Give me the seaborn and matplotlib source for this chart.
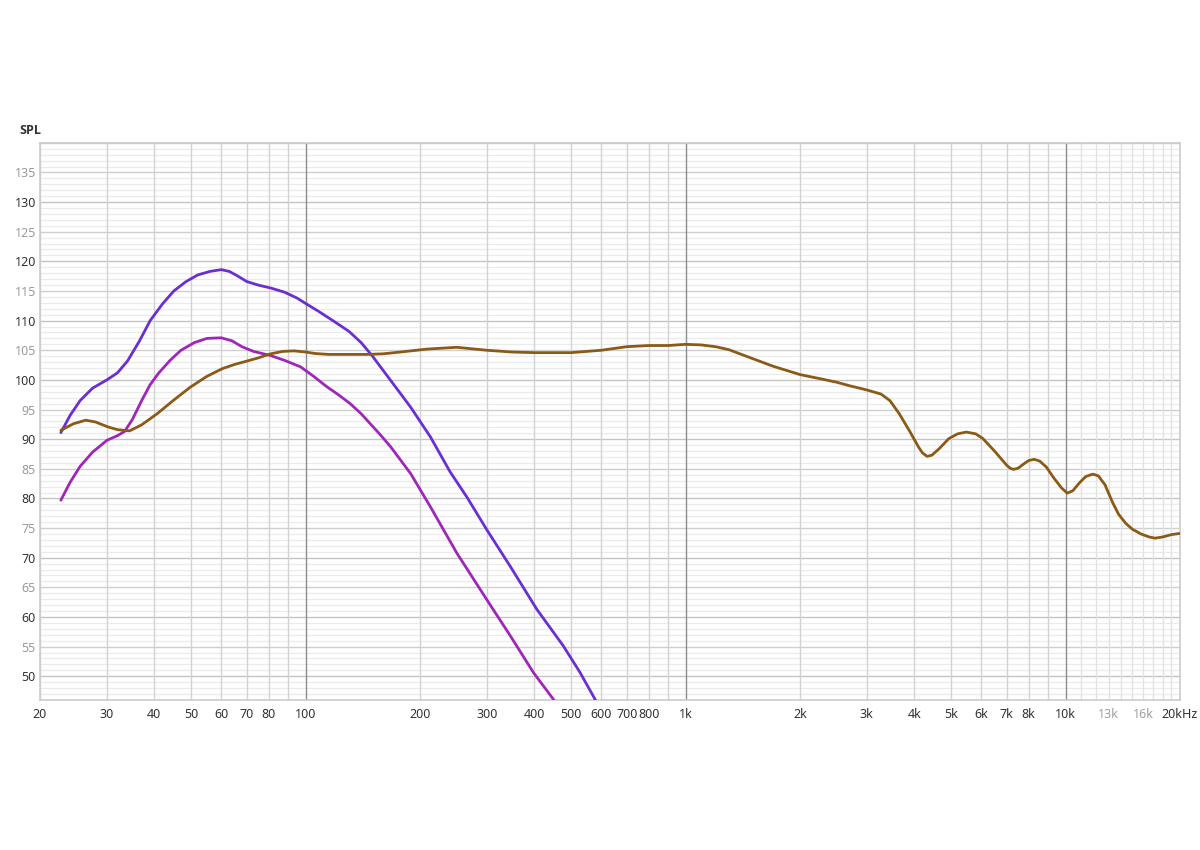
import matplotlib
matplotlib.use("Agg")
import matplotlib.pyplot as plt
import pandas as pd
import seaborn as sns

# frequency response readings (Hz, dB SPL)
blue_freq = [22.7, 24, 25.5, 27.5, 30, 32, 34, 36.5, 39, 42, 45, 48.5, 52, 56, 60, 63, 66,
             70, 75, 81, 88, 95, 100, 108, 118, 130, 140, 150, 167.5, 189, 213, 240, 266,
             300, 346, 406, 477, 528, 578, 600]
blue_spl = [91.1, 94.0, 96.5, 98.6, 100.0, 101.2, 103.2, 106.5, 110.0, 112.8, 115.0, 116.6,
            117.7, 118.3, 118.6, 118.3, 117.6, 116.6, 116.0, 115.5, 114.8, 113.8, 112.9, 111.6,
            110.0, 108.2, 106.3, 104.0, 99.9, 95.4, 90.4, 84.5, 80.2, 74.7, 68.5, 61.3, 55.1,
            50.6, 46.1, 43.5]

magenta_freq = [22.7, 24, 25.5, 27.5, 30, 32, 33.4, 35, 37.1, 39, 41, 44, 47, 51, 55, 60, 64,
                68, 73, 81, 88, 97, 105, 114, 122, 131, 140, 148, 157, 167.5, 189, 213, 250,
                300, 346, 398, 449, 470]
magenta_spl = [79.7, 82.7, 85.4, 87.8, 89.8, 90.6, 91.3, 93.3, 96.6, 99.2, 101.1, 103.3,
               105.0, 106.3, 107.0, 107.1, 106.6, 105.6, 104.8, 104.1, 103.3, 102.2, 100.6,
               98.8, 97.5, 96.0, 94.3, 92.6, 90.8, 88.7, 84.2, 78.6, 70.8, 62.9, 56.8, 50.6,
               46.1, 44.0]

brown_freq = [22.7, 24.5, 26.4, 28, 30.1, 32, 34.4, 37, 40.7, 45, 49.8, 55, 60.4, 65, 70.3,
              75, 80.9, 87, 93.2, 100, 106, 115, 130, 145, 160, 177.6, 209, 250, 300, 350, 400,
              500, 600, 700, 800, 900, 1000, 1100, 1200, 1300, 1500, 1700, 2000, 2300, 2500,
              2706, 3000, 3270, 3450, 3650, 3900, 4100, 4200, 4320, 4450, 4650, 4930, 5200,
              5480, 5800, 6060, 6500, 7000, 7150, 7290, 7500, 7750, 8000, 8270, 8550, 8900,
              9300, 9750, 10100, 10450, 10900, 11300, 11800, 12200, 12700, 13300, 13800,
              14400, 15000, 15800, 16600, 17200, 18000, 19000, 20000]
brown_spl = [91.5, 92.6, 93.2, 92.9, 92.1, 91.6, 91.4, 92.4, 94.3, 96.6, 98.8, 100.6, 101.9,
             102.6, 103.2, 103.7, 104.4, 104.8, 104.9, 104.7, 104.45, 104.3, 104.3, 104.3,
             104.4, 104.7, 105.2, 105.5, 105.0, 104.7, 104.6, 104.6, 105.0, 105.6, 105.8,
             105.8, 106.0, 105.9, 105.6, 105.1, 103.6, 102.3, 100.9, 100.1, 99.6, 99.0, 98.3,
             97.6, 96.5, 94.3, 91.2, 88.7, 87.7, 87.1, 87.3, 88.4, 90.1, 90.9, 91.2, 90.9,
             90.1, 88.0, 85.6, 85.1, 84.9, 85.1, 85.8, 86.4, 86.6, 86.3, 85.3, 83.5, 81.8,
             80.9, 81.3, 82.7, 83.7, 84.1, 83.8, 82.3, 79.3, 77.3, 75.8, 74.8, 74.0, 73.5,
             73.3, 73.5, 73.9, 74.1]

xtick_vals = [20, 30, 40, 50, 60, 70, 80, 100, 200, 300, 400, 500, 600, 700, 800, 1000,
              2000, 3000, 4000, 5000, 6000, 7000, 8000, 10000, 13000, 16000, 20000]
xtick_labels = ["20", "30", "40", "50", "60", "70", "80", "100", "200", "300", "400", "500",
                "600", "700", "800", "1k", "2k", "3k", "4k", "5k", "6k", "7k", "8k", "10k",
                "13k", "16k", "20kHz"]
ytick_vals = list(range(50, 140, 5))

df = pd.concat([
    pd.DataFrame({"freq": blue_freq, "spl": blue_spl, "curve": "a"}),
    pd.DataFrame({"freq": magenta_freq, "spl": magenta_spl, "curve": "b"}),
    pd.DataFrame({"freq": brown_freq, "spl": brown_spl, "curve": "c"}),
])
palette = {"a": "#6a2fd2", "b": "#9e27b9", "c": "#8a5a16"}

sns.set_theme(style="white")
plt.rcParams["font.family"] = ["Noto Sans", "DejaVu Sans"]

fig, ax = plt.subplots(figsize=(12, 8.5), dpi=100)
fig.subplots_adjust(left=0.0333, right=0.9833, top=0.832, bottom=0.1765)

# grid: horizontal first, vertical lines on top
for v in range(47, 141):
    if v % 5 == 0:
        ax.axhline(v, color="#cfcfcf" if v % 10 else "#c4c4c4", lw=1, zorder=0.2)
    else:
        ax.axhline(v, color="#ebebeb", lw=0.9, zorder=0.1)
for dec in [10, 100, 1000]:
    for m in range(2, 10):
        f = dec * m
        if f < 20:
            continue
        ax.axvline(f, color="#d2d2d2", lw=1, zorder=0.5)
for m in range(11, 20):
    ax.axvline(m * 1000, color="#e2e2e2", lw=1, zorder=0.5)
for f in [100, 1000, 10000]:
    ax.axvline(f, color="#8c8c8c", lw=1, zorder=0.6)

sns.lineplot(data=df, x="freq", y="spl", hue="curve", palette=palette, sort=False,
             estimator=None, lw=2, legend=False, ax=ax, zorder=3)

ax.set_xscale("log")
ax.set_xlim(20, 20000)
ax.set_ylim(46, 140)
ax.set_xlabel("")
ax.set_ylabel("")

ax.set_xticks(xtick_vals)
ax.set_xticklabels(xtick_labels)
ax.xaxis.set_minor_locator(matplotlib.ticker.NullLocator())
for lbl, v in zip(ax.get_xticklabels(), xtick_vals):
    lbl.set_color("#a0a0a0" if v in (13000, 16000) else "#333333")
ax.set_yticks(ytick_vals)
ax.set_yticklabels([str(v) for v in ytick_vals])
for lbl, v in zip(ax.get_yticklabels(), ytick_vals):
    lbl.set_color("#333333" if v % 10 == 0 else "#9a9a9a")
ax.tick_params(axis="both", length=0, labelsize=9)
ax.tick_params(axis="x", pad=6)
ax.tick_params(axis="y", pad=3)

for s in ax.spines.values():
    s.set_color("#cccccc")
    s.set_linewidth(1.2)

fig.text(0.016, 0.846, "SPL", fontsize=9, fontweight="bold", color="#333333", va="center",
         family=["Open Sans", "DejaVu Sans"])

fig.savefig("out.png", dpi=100)
